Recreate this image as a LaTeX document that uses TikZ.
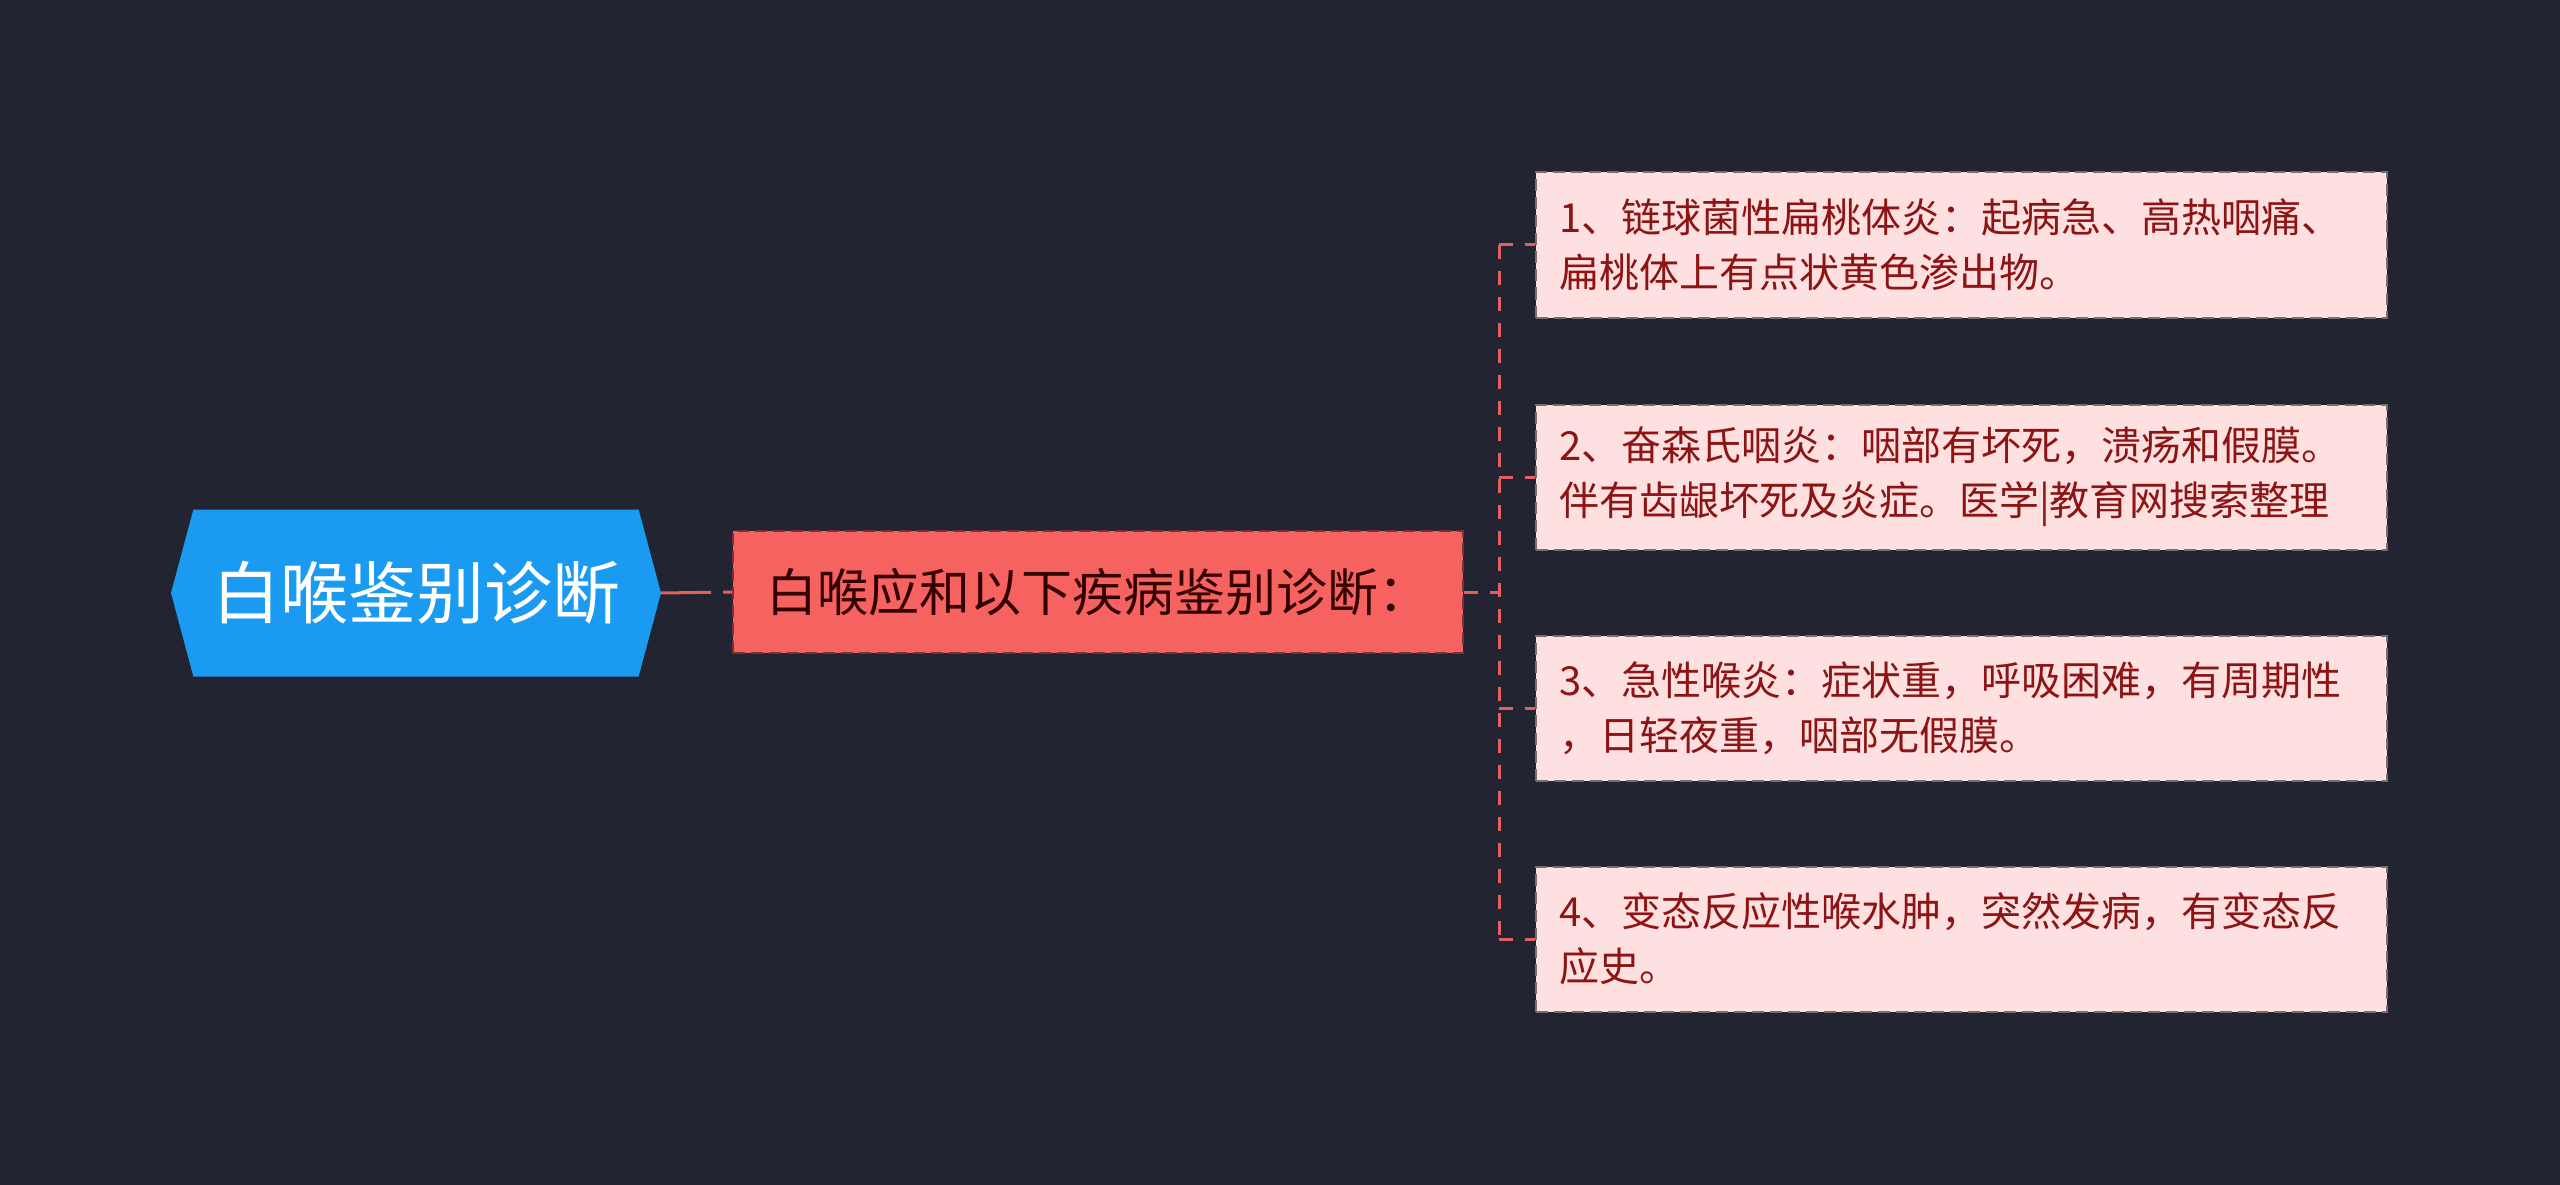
\documentclass[tikz,border=0pt]{standalone}
\usepackage{fontspec}
\usepackage{xcolor}
\usepackage{tikz}
\newfontfamily\cjk{Noto Sans CJK SC}
\definecolor{BgNavy}{RGB}{34,37,49}
\definecolor{RootBlue}{RGB}{26,154,240}
\definecolor{MidRed}{RGB}{246,98,96}
\definecolor{MidEdge}{RGB}{120,50,55}
\definecolor{LeafPink}{RGB}{255,224,224}
\definecolor{LeafEdge}{RGB}{120,110,112}
\definecolor{LeafText}{RGB}{140,20,20}
\definecolor{LinkRed}{RGB}{226,96,96}
\usetikzlibrary{shapes.symbols,positioning,calc}

\begin{document}
\begin{tikzpicture}[x=1pt, y=-1pt,
    every node/.style={font=\cjk},
    link/.style={draw=LinkRed, line width=3pt, dash pattern=on 14pt off 12pt},
    leaf/.style={draw=LeafEdge, fill=LeafPink, line width=2pt, dash pattern=on 12pt off 6pt,
        minimum width=851pt, minimum height=145pt, text width=805pt, inner xsep=23pt,
        align=left, text=LeafText, font=\cjk\fontsize{40}{55}\selectfont}]
% background and picture size
\fill[BgNavy] (0,0) rectangle (2560,1185);
\useasboundingbox (0,0) rectangle (2560,1185);

%draw the root and the middle node
\node[signal, signal to=west and east, signal pointer angle=150, fill=RootBlue, text=white,
    minimum width=490pt, minimum height=167pt, inner sep=0pt,
    font=\cjk\fontsize{68}{80}\selectfont] (root) at (416,593) {白喉鉴别诊断};
\node[fill=MidRed, draw=MidEdge, line width=2pt, dash pattern=on 12pt off 6pt,
    minimum width=730pt, minimum height=122pt, text=black!80!red,
    font=\cjk\fontsize{51}{60}\selectfont] (mid) at (1098,592) {白喉应和以下疾病鉴别诊断：};
\draw[link, dash pattern=on 50pt off 12pt] (root.east) -- (mid.west);

%draw the leaves
\foreach \y/\txt [count=\c] in {245/{1、链球菌性扁桃体炎：起病急、高热咽痛、\\扁桃体上有点状黄色渗出物。},
    477/{2、奋森氏咽炎：咽部有坏死，溃疡和假膜。\\伴有齿龈坏死及炎症。医学|教育网搜索整理},
    708/{3、急性喉炎：症状重，呼吸困难，有周期性\\，日轻夜重，咽部无假膜。},
    939/{4、变态反应性喉水肿，突然发病，有变态反\\应史。}}{
    \node[leaf] (leaf\c) at (1961.5,\y) {\txt};
}

% trunk and branches
\coordinate (jn) at (1499,592);
\draw[link] (mid.east) -- (jn);
\draw[link] (leaf1.west -| jn) -- (leaf4.west -| jn);
\foreach \c in {1,...,4}{
    \draw[link] (leaf\c.west -| jn) -- (leaf\c.west);
}
\end{tikzpicture}
\end{document}
